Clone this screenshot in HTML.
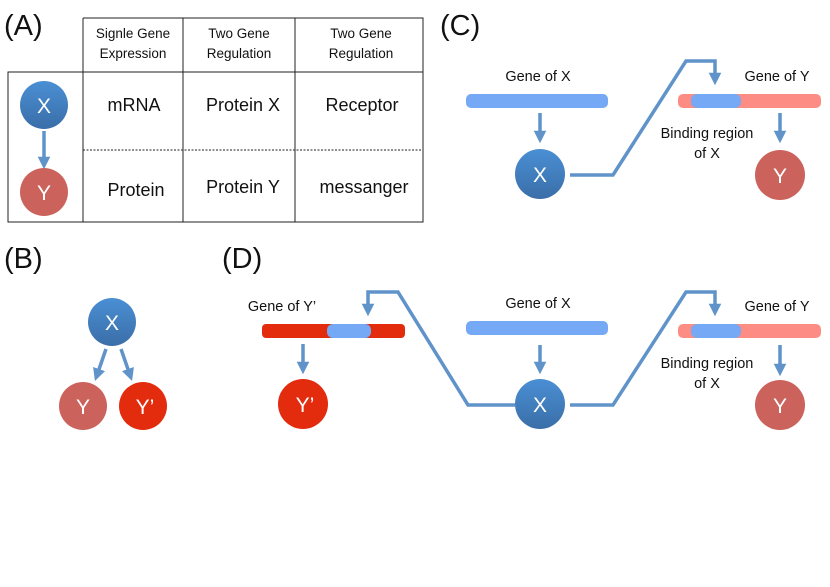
<!DOCTYPE html>
<html><head><meta charset="utf-8"><style>
html,body{margin:0;padding:0;background:#fff;width:830px;height:587px;overflow:hidden}
text{font-family:"Liberation Sans",sans-serif}
</style></head><body>
<svg width="830" height="587" viewBox="0 0 830 587" xmlns="http://www.w3.org/2000/svg">
<defs>
<linearGradient id="gb" x1="0" y1="0" x2="0" y2="1"><stop offset="0" stop-color="#4a8fd4"/><stop offset="1" stop-color="#3a6ea8"/></linearGradient>
<marker id="ah" viewBox="0 0 10 10" refX="5" refY="5" markerWidth="3.6" markerHeight="3.6" orient="auto"><path d="M0,0 L10,5 L0,10 z" fill="#5f93c9"/></marker>
</defs>
<g font-size="29" fill="#111">
<text x="4" y="35">(A)</text><text x="440" y="35">(C)</text>
<text x="4" y="268">(B)</text><text x="222" y="268">(D)</text>
</g>
<g stroke="#222" stroke-width="1" fill="none">
<path d="M83,18 H423 V222 H8 V72 H423 M83,18 V222 M183,18 V222 M295,18 V222"/>
<path d="M83,150 H423" stroke-dasharray="2,1.5"/>
</g>
<g font-size="13.5" text-anchor="middle" fill="#111">
<text x="133" y="38">Signle Gene</text><text x="133" y="58">Expression</text>
<text x="239" y="38">Two Gene</text><text x="239" y="58">Regulation</text>
<text x="361" y="38">Two Gene</text><text x="361" y="58">Regulation</text>
</g>
<g font-size="18" text-anchor="middle" fill="#111">
<text x="134" y="111">mRNA</text><text x="243" y="111">Protein X</text><text x="362" y="111">Receptor</text>
<text x="136" y="196">Protein</text><text x="243" y="193">Protein Y</text><text x="364" y="193">messanger</text>
</g>
<g stroke="#5f93c9" stroke-width="3.5" fill="none" marker-end="url(#ah)">
<line x1="44" y1="131" x2="44" y2="163"/>
<line x1="106" y1="349" x2="97" y2="375"/>
<line x1="121" y1="349" x2="130" y2="375"/>
<line x1="540" y1="113" x2="540" y2="137"/>
<line x1="780" y1="113" x2="780" y2="137"/>
<line x1="540" y1="345" x2="540" y2="368"/>
<line x1="780" y1="345" x2="780" y2="370"/>
<line x1="303" y1="344" x2="303" y2="368"/>
<polyline points="570,175 613,175 686,61 715,61 715,79"/>
<polyline points="570,405 613,405 686,292 715,292 715,310"/>
<polyline points="515,405 468,405 398,292 368,292 368,310"/>
</g>
<rect x="466" y="94" width="142" height="14" rx="5" fill="#75a8f5"/>
<rect x="678" y="94" width="143" height="14" rx="5" fill="#fd8d84"/>
<rect x="691" y="94" width="50" height="14" rx="6" fill="#75a8f5"/>
<rect x="466" y="321" width="142" height="14" rx="5" fill="#75a8f5"/>
<rect x="678" y="324" width="143" height="14" rx="5" fill="#fd8d84"/>
<rect x="691" y="324" width="50" height="14" rx="6" fill="#75a8f5"/>
<rect x="262" y="324" width="143" height="14" rx="4" fill="#e32b0d"/>
<rect x="327" y="324" width="44" height="14" rx="6" fill="#75a8f5"/>
<g>
<circle cx="44" cy="105" r="24" fill="url(#gb)"/>
<circle cx="44" cy="192" r="24" fill="#cc625c"/>
<circle cx="112" cy="322" r="24" fill="url(#gb)"/>
<circle cx="83" cy="406" r="24" fill="#cc625c"/>
<circle cx="143" cy="406" r="24" fill="#e32b0d"/>
<circle cx="540" cy="174" r="25" fill="url(#gb)"/>
<circle cx="780" cy="175" r="25" fill="#cc625c"/>
<circle cx="540" cy="404" r="25" fill="url(#gb)"/>
<circle cx="780" cy="405" r="25" fill="#cc625c"/>
<circle cx="303" cy="404" r="25" fill="#e32b0d"/>
</g>
<g font-size="21" fill="#fff" text-anchor="middle">
<text x="44" y="113">X</text><text x="44" y="200">Y</text>
<text x="112" y="330">X</text><text x="83" y="414">Y</text><text x="145" y="414">Y’</text>
<text x="540" y="182">X</text><text x="780" y="183">Y</text>
<text x="540" y="412">X</text><text x="780" y="413">Y</text><text x="305" y="412">Y’</text>
</g>
<g font-size="14.5" fill="#111" text-anchor="middle">
<text x="538" y="81">Gene of X</text><text x="777" y="81">Gene of Y</text>
<text x="707" y="138">Binding region</text><text x="707" y="158">of X</text>
<text x="538" y="308">Gene of X</text><text x="777" y="311">Gene of Y</text>
<text x="282" y="311">Gene of Y’</text>
<text x="707" y="368">Binding region</text><text x="707" y="388">of X</text>
</g>
</svg>
</body></html>
